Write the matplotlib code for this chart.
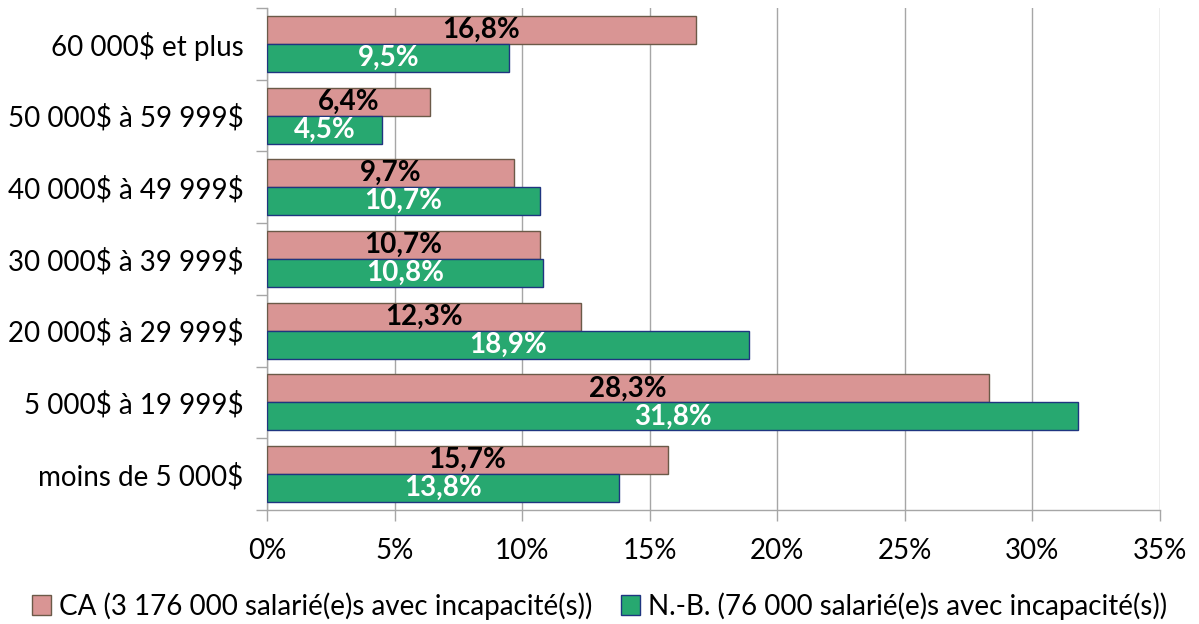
import matplotlib
matplotlib.use("Agg")
import matplotlib.pyplot as plt
import numpy as np
from matplotlib.ticker import FixedLocator, FuncFormatter

plt.rcParams['font.family'] = ['Lato', 'DejaVu Sans']
plt.rcParams['text.parse_math'] = False

categories = ["moins de 5 000$", "5 000$ à 19 999$", "20 000$ à 29 999$",
              "30 000$ à 39 999$", "40 000$ à 49 999$", "50 000$ à 59 999$",
              "60 000$ et plus"]
ca_values = [15.7, 28.3, 12.3, 10.7, 9.7, 6.4, 16.8]
nb_values = [13.8, 31.8, 18.9, 10.8, 10.7, 4.5, 9.5]
series_names = ["CA (3 176 000 salarié(e)s avec incapacité(s))",
                "N.-B. (76 000 salarié(e)s avec incapacité(s))"]
xticks = [0, 5, 10, 15, 20, 25, 30, 35]

fig = plt.figure(figsize=(11.99, 6.24), dpi=100)
ax = fig.add_axes([267/1199, 1-510/624, (1160-267)/1199, (510-8)/624])

y = np.arange(len(categories))
h = 0.39
pink = "#D99594"
green = "#27A870"
b1 = ax.barh(y + h/2, ca_values, height=h, color=pink, edgecolor="#6B5A48", linewidth=1.0, zorder=3, label=series_names[0])
b2 = ax.barh(y - h/2, nb_values, height=h, color=green, edgecolor="#1F3580", linewidth=1.0, zorder=3, label=series_names[1])

for rect, v in zip(b1, ca_values):
    ax.text(rect.get_width()/2, rect.get_y()+rect.get_height()/2, f"{v:.1f}%".replace('.', ','),
            ha='center', va='center', fontsize=20, fontweight='bold', color='black', zorder=4)
for rect, v in zip(b2, nb_values):
    ax.text(rect.get_width()/2, rect.get_y()+rect.get_height()/2, f"{v:.1f}%".replace('.', ','),
            ha='center', va='center', fontsize=20, fontweight='bold', color='white', zorder=4)

ax.set_xlim(0, 35)
ax.set_ylim(-0.5, len(categories)-0.5)
ax.set_xticks(xticks)
ax.xaxis.set_major_formatter(FuncFormatter(lambda v, p: f"{int(v)}%"))
ax.grid(axis='x', color='#A6A6A6', linewidth=1.0, zorder=0)
ax.set_yticks(y)
ax.set_yticklabels(categories)
ax.yaxis.set_minor_locator(FixedLocator(np.arange(-0.5, len(categories), 1.0)))
ax.tick_params(axis='y', which='major', length=0, pad=17, labelsize=20)
ax.tick_params(axis='y', which='minor', length=8, color='#A6A6A6', width=1.0)
ax.tick_params(axis='x', which='major', length=8, color='#A6A6A6', width=1.0, pad=12, labelsize=20)
for s in ['top', 'right']:
    ax.spines[s].set_visible(False)
for s in ['left', 'bottom']:
    ax.spines[s].set_color('#A6A6A6')
    ax.spines[s].set_linewidth(1.0)

fig.legend(handles=[b1, b2], labels=series_names, loc='center', bbox_to_anchor=(0.5, 1-606/624),
           ncol=2, frameon=False, fontsize=20, handlelength=0.7, handleheight=0.7,
           handletextpad=0.3, columnspacing=1.0)

fig.savefig("out.png", dpi=100)
